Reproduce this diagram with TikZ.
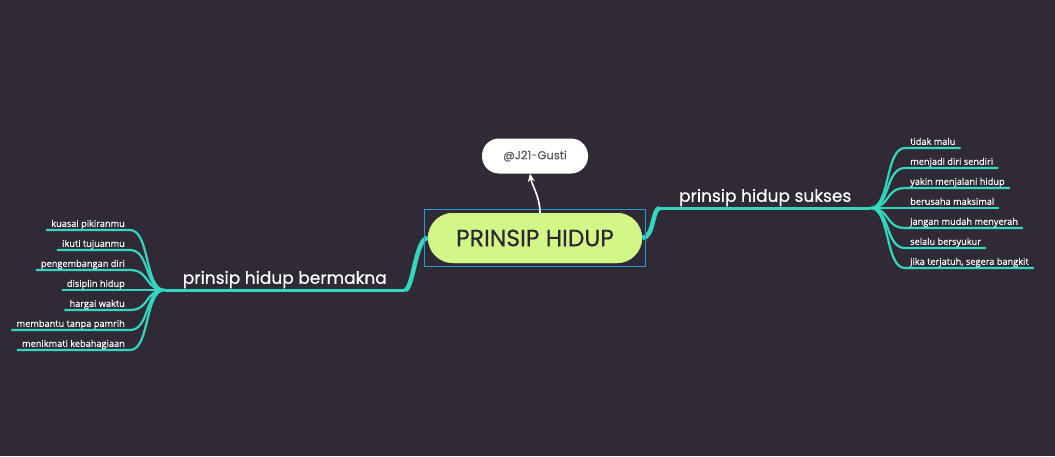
\documentclass[tikz,border=0pt]{standalone}
\usepackage{fontspec}
\setmainfont{Poppins}[FakeBold=0.5]
\newfontfamily\daunfont{Open Sans}[FakeBold=0.4]
\usetikzlibrary{arrows.meta}
\definecolor{latar}{HTML}{2F2A35}
\definecolor{toska}{HTML}{33D6BF}
\definecolor{hijau}{HTML}{D3F787}
\definecolor{pilih}{HTML}{2A9AD6}
\definecolor{gelap}{HTML}{2B2731}
\begin{document}
\begin{tikzpicture}[
  x=1pt, y=-1pt,
  every node/.style={inner sep=0pt},
  root/.style={fill=hijau, text=gelap, rounded corners=25pt,
    minimum width=214pt, minimum height=50pt, font=\fontsize{23.5}{28}\selectfont},
  author/.style={fill=white, text=black!65, rounded corners=17pt,
    minimum width=106pt, minimum height=35pt, font=\fontsize{11.5}{14}\selectfont},
  branch/.style={text=white, text depth=0pt, inner ysep=6pt,
    font=\fontsize{17}{20}\selectfont},
  leaf/.style={text=white, text depth=0pt, inner ysep=3pt, inner xsep=5pt,
    font=\daunfont\fontsize{9.2}{11}\selectfont},
  bough/.style={draw=toska, line width=3pt},
  twig/.style={draw=toska, line width=2.2pt}
]

% Peta pikiran
\fill[latar] (0,0) rectangle (1055,456);

\node[root] (root) at (535,238) {PRINSIP HIDUP};
\node[author] (penulis) at (535,156) {@J21-Gusti};
\node[branch, anchor=south west, minimum width=210pt] (sukses) at (660,208) {prinsip hidup sukses};
\node[branch, anchor=south east, minimum width=240pt] (bermakna) at (405,290) {prinsip hidup bermakna};
\coordinate (kanan) at (sukses.south east);
\coordinate (kiri) at (bermakna.south west);

% cabang utama
\draw[bough, line width=4.5pt] (root.east) .. controls +(12,0) and +(-8,0) .. (sukses.south west);
\draw[bough] (sukses.south west) -- (kanan);
\draw[bough, line width=4.5pt] (root.west) .. controls +(-12,0) and +(8,0) .. (bermakna.south east);
\draw[bough] (bermakna.south east) -- (kiri);

\foreach \i/\y/\teks in {1/148/tidak malu, 2/168/menjadi diri sendiri,
    3/188/yakin menjalani hidup, 4/208/berusaha maksimal,
    5/228/jangan mudah menyerah, 6/248/selalu bersyukur,
    7/268/{jika terjatuh, segera bangkit}} {
  \node[leaf, anchor=south west] (ka\i) at (905,\y) {\teks};
  \draw[twig] (kanan) .. controls +(20,0) and +(-20,0) .. (ka\i.south west) -- (ka\i.south east);
}

\foreach \i/\y/\teks in {1/230/kuasai pikiranmu, 2/250/ikuti tujuanmu,
    3/270/pengembangan diri, 4/290/disiplin hidup,
    5/310/hargai waktu, 6/330/membantu tanpa pamrih,
    7/350/menikmati kebahagiaan} {
  \node[leaf, anchor=south east] (ki\i) at (130,\y) {\teks};
  \draw[twig] (kiri) .. controls +(-20,0) and +(20,0) .. (ki\i.south east) -- (ki\i.south west);
}

\node[root] at (root) {PRINSIP HIDUP};
\draw[pilih, line width=1pt] ([shift={(-3pt,-3pt)}]root.south west) rectangle ([shift={(3pt,3pt)}]root.north east);
\draw[white, line width=1.6pt, -{Stealth[length=8pt,width=7pt]}]
  ([xshift=5pt]root.north) .. controls +(0,-16) and +(2,12) .. ([xshift=-5pt]penulis.south);

\end{tikzpicture}
\end{document}
